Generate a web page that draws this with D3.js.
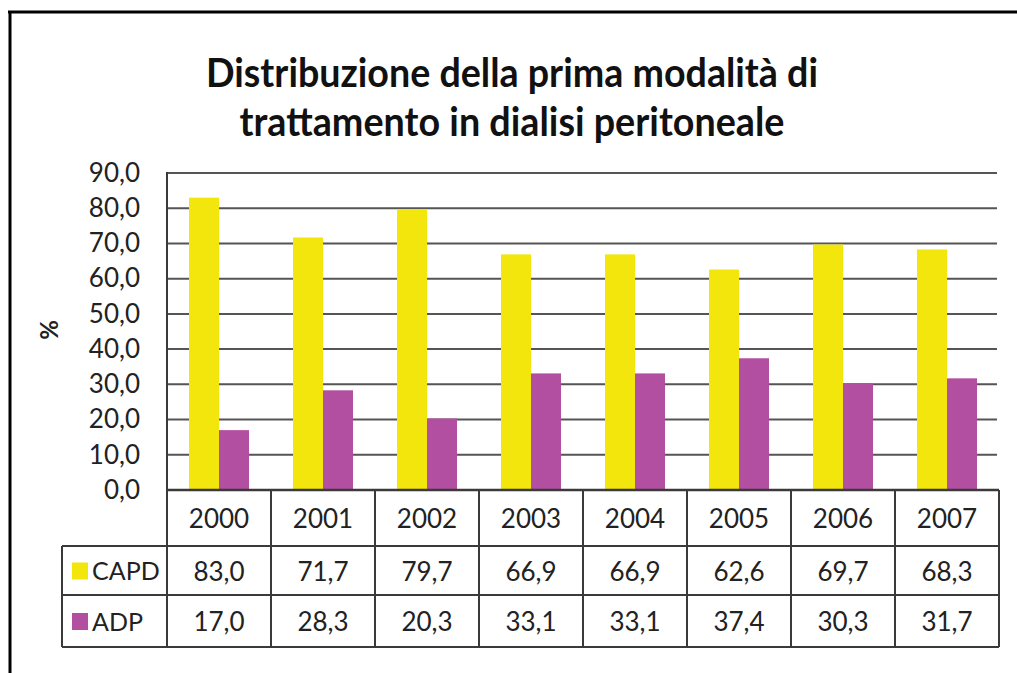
<!DOCTYPE html>
<html><head><meta charset="utf-8">
<script src="https://cdn.jsdelivr.net/npm/d3@7"></script>
<style>html,body{margin:0;padding:0;background:#fff;} svg{display:block;}</style>
</head><body>
<svg id="c" width="1017" height="673"></svg>
<script>
const titleLines = ["Distribuzione della prima modalità di", "trattamento in dialisi peritoneale"];
const years = ["2000","2001","2002","2003","2004","2005","2006","2007"];
const seriesNames = ["CAPD","ADP"];
const capd = [83.0,71.7,79.7,66.9,66.9,62.6,69.7,68.3];
const adp = [17.0,28.3,20.3,33.1,33.1,37.4,30.3,31.7];
const yTicks = [0,10,20,30,40,50,60,70,80,90];
const colors = {CAPD:"#F2E60C", ADP:"#B24FA0"};
const yLabel = "%";

const values = {CAPD: capd, ADP: adp};
const svg = d3.select("#c");
const font = "Lato, 'Open Sans', sans-serif";
const txt = "#222";

// frame
svg.append("line").attr("x1",8).attr("x2",1017).attr("y1",12).attr("y2",12).attr("stroke","#000").attr("stroke-width",3);
svg.append("line").attr("x1",10).attr("x2",10).attr("y1",11).attr("y2",673).attr("stroke","#000").attr("stroke-width",3);

// title
const tg = svg.append("g");
const tW = [612, 545];
const tY = [87, 136];
titleLines.forEach((t,i)=>{
  tg.append("text").attr("x",512).attr("y",tY[i]).attr("text-anchor","middle")
    .attr("font-family",font).attr("font-weight","bold").attr("font-size",40).attr("fill","#111")
    .attr("textLength",tW[i]).attr("lengthAdjust","spacingAndGlyphs").text(t);
});

const x0 = 167, x1 = 999, yTop = 173, yBot = 490;
const x = d3.scaleBand().domain(years).range([x0,x1]);
const xs = d3.scaleBand().domain(seriesNames).range([0,x.bandwidth()]).paddingInner(0).paddingOuter(0.733);
const y = d3.scaleLinear().domain([0,90]).range([yBot,yTop]);

// gridlines
svg.append("g").selectAll("line").data(yTicks.filter(d=>d>0)).join("line")
  .attr("x1",x0).attr("x2",x1-2).attr("y1",d=>y(d)).attr("y2",d=>y(d))
  .attr("stroke","#555").attr("stroke-width",2);

// bars
seriesNames.forEach(s=>{
  svg.append("g").selectAll("rect").data(years).join("rect")
    .attr("x",(d)=>x(d)+xs(s)).attr("width",xs.bandwidth())
    .attr("y",(d,i)=>y(values[s][i])).attr("height",(d,i)=>yBot-y(values[s][i]))
    .attr("fill",colors[s]);
});

// y axis
const yAxis = d3.axisLeft(y).tickValues(yTicks).tickSize(0).tickPadding(27)
  .tickFormat(d=>d3.format(".1f")(d).replace(".",","));
const ya = svg.append("g").attr("transform",`translate(${x0},0)`).call(yAxis);
ya.select(".domain").remove();
ya.selectAll("text").attr("font-family",font).attr("font-size",26).attr("fill",txt);

svg.append("text").attr("transform","translate(58,330) rotate(-90)").attr("text-anchor","middle")
  .attr("font-family",font).attr("font-weight","bold").attr("font-size",24).attr("fill",txt).text(yLabel);

// table
const rowY = [490, 546, 595, 647];
const legX = 62;
const lc = "#3a3a3a";
const tbl = svg.append("g");
tbl.append("line").attr("x1",x0).attr("x2",x1).attr("y1",rowY[0]).attr("y2",rowY[0]).attr("stroke",lc).attr("stroke-width",2.5);
[1,2,3].forEach(r=>tbl.append("line").attr("x1",legX).attr("x2",x1).attr("y1",rowY[r]).attr("y2",rowY[r]).attr("stroke",lc).attr("stroke-width",2));
tbl.append("line").attr("x1",x0).attr("x2",x0).attr("y1",yTop-1).attr("y2",rowY[3]).attr("stroke",lc).attr("stroke-width",2);
years.forEach(yr=>{
  const xr = x(yr)+x.bandwidth();
  tbl.append("line").attr("x1",xr).attr("x2",xr).attr("y1",rowY[0]).attr("y2",rowY[3]).attr("stroke",lc).attr("stroke-width",2);
});
tbl.append("line").attr("x1",legX).attr("x2",legX).attr("y1",rowY[1]).attr("y2",rowY[3]).attr("stroke",lc).attr("stroke-width",2);

tbl.selectAll("text.h").data(years).join("text").attr("class","h")
  .attr("x",d=>x(d)+x.bandwidth()/2).attr("y",(rowY[0]+rowY[1])/2+1).attr("dy","0.35em")
  .attr("text-anchor","middle").attr("font-family",font).attr("font-size",26).attr("fill",txt).text(d=>d);

seriesNames.forEach((s,si)=>{
  const cy = (rowY[si+1]+rowY[si+2])/2 + 1;
  tbl.selectAll("text.v"+s).data(values[s]).join("text").attr("class","v"+s)
    .attr("x",(d,i)=>x(years[i])+x.bandwidth()/2).attr("y",cy).attr("dy","0.35em")
    .attr("text-anchor","middle").attr("font-family",font).attr("font-size",26).attr("fill",txt)
    .text(d=>d3.format(".1f")(d).replace(".",","));
  tbl.append("rect").attr("x",72).attr("y",cy-9).attr("width",16).attr("height",17).attr("fill",colors[s]);
  tbl.append("text").attr("x",92).attr("y",cy).attr("dy","0.35em").attr("font-family",font)
    .attr("font-size",25).attr("fill",txt).text(s);
});
</script>
</body></html>
